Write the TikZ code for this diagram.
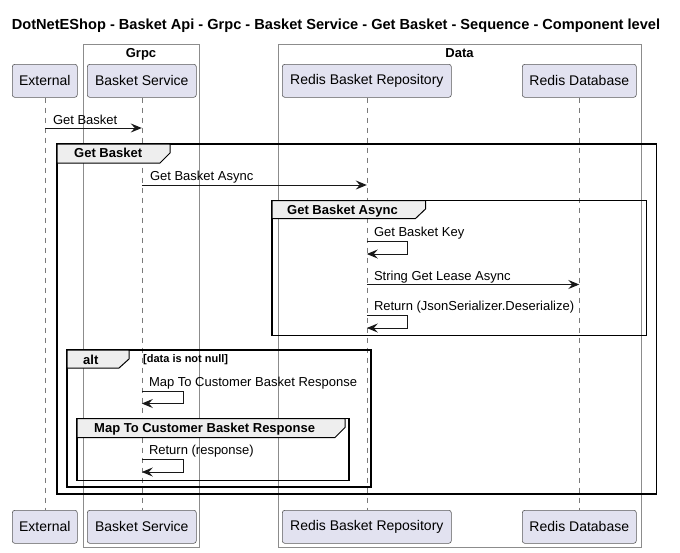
\documentclass[tikz,border=0pt]{standalone}
\usepackage{fontspec}
\setmainfont{Liberation Sans}
\usetikzlibrary{arrows.meta}
\definecolor{partfill}{HTML}{E2E2F0}
\definecolor{partline}{HTML}{5A5A5A}
\definecolor{tabfill}{HTML}{EEEEEE}
\definecolor{boxline}{HTML}{8C8C8C}
\definecolor{lifegray}{HTML}{7A7A7A}
\definecolor{ink}{HTML}{181818}

\begin{document}
\begin{tikzpicture}[x=1pt,y=-1pt,
  participant/.style={draw=partline, fill=partfill, rounded corners=2.5pt,
    line width=0.6pt, minimum height=33pt, inner sep=0pt, anchor=north west,
    font=\fontsize{14}{16}\selectfont},
  lifeline/.style={draw=lifegray, line width=0.6pt, dash pattern=on 5pt off 5pt},
  grpbox/.style={draw=boxline, line width=0.8pt},
  grplabel/.style={font=\fontsize{13}{15}\selectfont\bfseries, anchor=base, inner sep=0pt},
  msg/.style={draw=ink, line width=1pt, -{Stealth[length=11pt,width=9pt,inset=4pt]}},
  msglabel/.style={font=\fontsize{13}{15}\selectfont, anchor=base west, inner sep=0pt},
  frame/.style={draw=black, line width=1.5pt},
  tab/.style={draw=black, fill=tabfill, line width=1pt},
  tablabel/.style={font=\fontsize{13}{15}\selectfont\bfseries, anchor=base west, inner sep=0pt},
  guard/.style={font=\fontsize{11}{13}\selectfont\bfseries, anchor=base west, inner sep=0pt},
]
\useasboundingbox (0,0) rectangle (680,552);
\fill[white] (0,0) rectangle (680,552);

% title
\node[font=\fontsize{14.6}{17}\selectfont\bfseries, anchor=base, inner sep=0pt] (title) at (336,29.5)
  {DotNetEShop - Basket Api - Grpc - Basket Service - Get Basket - Sequence - Component level};

% participant groups
\draw[grpbox] (83,44) rectangle (199,547);
\node[grplabel] (grpc) at (141,57.5) {Grpc};
\draw[grpbox] (278,44) rectangle (641,547);
\node[grplabel] (data) at (459.5,57.5) {Data};

% participants, top and bottom
\node[participant, minimum width=65pt]  (ext)  at (12,64)  {External};
\node[participant, minimum width=109pt] (bsk)  at (87,64)  {Basket Service};
\node[participant, minimum width=169pt] (repo) at (282,64) {Redis Basket Repository};
\node[participant, minimum width=114pt] (rdb)  at (522,64) {Redis Database};

\node[participant, minimum width=65pt]  (extB)  at (12,510)  {External};
\node[participant, minimum width=109pt] (bskB)  at (87,510)  {Basket Service};
\node[participant, minimum width=169pt] (repoB) at (282,510) {Redis Basket Repository};
\node[participant, minimum width=114pt] (rdbB)  at (522,510) {Redis Database};

% lifelines
\draw[lifeline] (ext.south) -- (extB.north);
\draw[lifeline] (bsk.south) -- (bskB.north);
\draw[lifeline] (repo.south) -- (repoB.north);
\draw[lifeline] (rdb.south) -- (rdbB.north);

% combined fragments
% Get Basket
\draw[frame] (57,144) rectangle (656.5,494);
\draw[tab] (57,144) -- (170,144) -- (170,153) -- (160,163) -- (57,163) -- cycle;
\node[tablabel] (fGB) at (74,157.5) {Get Basket};
% Get Basket Async
\draw[frame] (272,200.5) rectangle (646.5,335.5);
\draw[tab] (272,200.5) -- (425.5,200.5) -- (425.5,209) -- (415.5,218.5) -- (272,218.5) -- cycle;
\node[tablabel] (fGBA) at (287,214) {Get Basket Async};
% alt
\draw[frame] (67,350) rectangle (371,487);
\draw[tab] (67,350) -- (129,350) -- (129,359) -- (119,368) -- (67,368) -- cycle;
\node[tablabel] (fAlt) at (83,364) {alt};
\node[guard] (cond) at (143,362.5) {[data is not null]};
% Map To Customer Basket Response
\draw[frame] (77,418.5) rectangle (349,480.5);
\draw[tab] (77,418.5) -- (345,418.5) -- (345,427.5) -- (335,437.5) -- (77,437.5) -- cycle;
\node[tablabel] (fMap) at (94,432.5) {Map To Customer Basket Response};

% message anchor points on the lifelines
\coordinate (e1) at (ext.south |- 0,128);
\coordinate (b1) at (bsk.south |- 0,128);
\coordinate (b2) at (bsk.south |- 0,185);
\coordinate (r2) at (repo.south |- 0,185);
\coordinate (r3a) at (repo.south |- 0,241.5);
\coordinate (r3b) at (repo.south |- 0,254);
\coordinate (r4) at (repo.south |- 0,284.5);
\coordinate (d4) at (rdb.south |- 0,284.5);
\coordinate (r5a) at (repo.south |- 0,315.5);
\coordinate (r5b) at (repo.south |- 0,328);
\coordinate (b6a) at (bsk.south |- 0,391);
\coordinate (b6b) at (bsk.south |- 0,403.5);
\coordinate (b7a) at (bsk.south |- 0,459.5);
\coordinate (b7b) at (bsk.south |- 0,472);

% messages
\draw[msg] (e1) -- (b1);
\node[msglabel] (l1) at ([xshift=8pt,yshift=4pt]e1) {Get Basket};

\draw[msg] (b2) -- (r2);
\node[msglabel] (l2) at ([xshift=8pt,yshift=4.5pt]b2) {Get Basket Async};

\draw[msg] (r3a) -- ++(41,0) |- (r3b);
\node[msglabel] (l3) at ([xshift=7pt,yshift=5pt]r3a) {Get Basket Key};

\draw[msg] (r4) -- (d4);
\node[msglabel] (l4) at ([xshift=7pt,yshift=4.5pt]r4) {String Get Lease Async};

\draw[msg] (r5a) -- ++(41,0) |- (r5b);
\node[msglabel] (l5) at ([xshift=7pt,yshift=5pt]r5a) {Return (JsonSerializer.Deserialize)};

\draw[msg] (b6a) -- ++(42,0) |- (b6b);
\node[msglabel] (l6) at ([xshift=7pt,yshift=5pt]b6a) {Map To Customer Basket Response};

\draw[msg] (b7a) -- ++(42,0) |- (b7b);
\node[msglabel] (l7) at ([xshift=7pt,yshift=5pt]b7a) {Return (response)};
\end{tikzpicture}
\end{document}
